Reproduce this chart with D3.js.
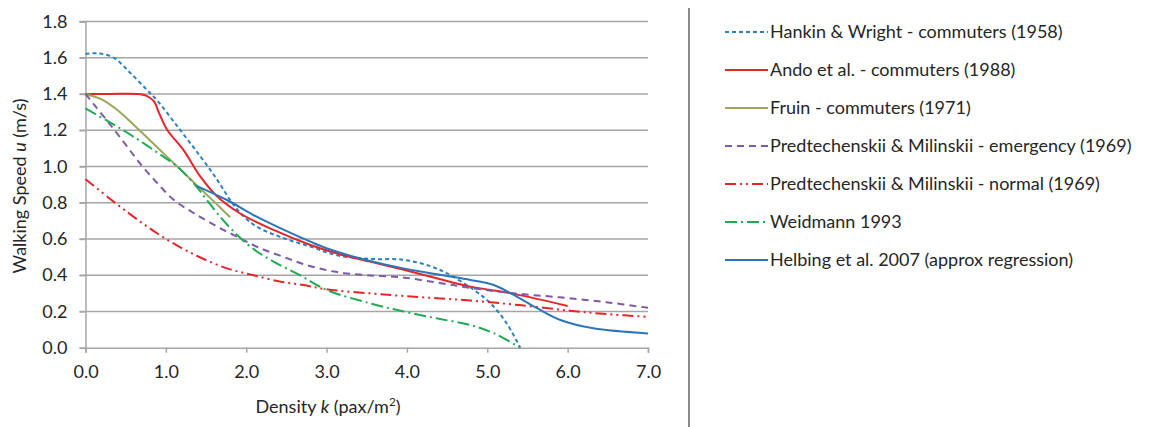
<!DOCTYPE html>
<html>
<head>
<meta charset="utf-8">
<script src="https://cdn.jsdelivr.net/npm/d3@7"></script>
<style>
  html, body { margin: 0; padding: 0; background: #fff; }
  svg { display: block; font-family: Lato, "Open Sans", sans-serif; }
</style>
</head>
<body>
<svg id="chart" width="1154" height="427"></svg>
<script>
// ---- data ----
const yTicks = [0.0, 0.2, 0.4, 0.6, 0.8, 1.0, 1.2, 1.4, 1.6, 1.8];
const xTicks = [0, 1, 2, 3, 4, 5, 6, 7];

const seriesNames = [
  "Hankin & Wright - commuters (1958)",
  "Ando et al. - commuters (1988)",
  "Fruin - commuters (1971)",
  "Predtechenskii & Milinskii - emergency (1969)",
  "Predtechenskii & Milinskii - normal (1969)",
  "Weidmann 1993",
  "Helbing et al. 2007 (approx regression)"
];

const hankin = [[0,1.62],[0.15,1.625],[0.35,1.60],[0.56,1.515],[0.77,1.42],[0.9,1.36],[1.18,1.20],[1.43,1.055],[1.64,0.926],[1.80,0.815],[1.93,0.742],[2.13,0.668],[2.47,0.604],[2.80,0.558],[3.13,0.51],[3.54,0.49],[3.96,0.485],[4.29,0.45],[4.5,0.41],[4.83,0.32],[5.04,0.245],[5.24,0.135],[5.41,0.0]];
const ando = [[0,1.40],[0.3,1.40],[0.64,1.40],[0.76,1.39],[0.85,1.36],[0.92,1.29],[1.02,1.20],[1.22,1.09],[1.43,0.944],[1.64,0.834],[1.92,0.742],[2.34,0.65],[2.80,0.567],[3.13,0.52],[3.54,0.475],[3.96,0.43],[4.37,0.383],[4.79,0.337],[5.33,0.297],[6.0,0.23]];
const fruin = [[0,1.40],[0.2,1.37],[0.4,1.31],[0.6,1.23],[0.8,1.145],[1.0,1.06],[1.2,0.975],[1.4,0.89],[1.6,0.806],[1.8,0.72]];
const predEmergency = [[0,1.40],[0.1,1.345],[0.3,1.235],[0.5,1.12],[0.7,1.005],[0.9,0.905],[1.1,0.815],[1.35,0.742],[1.64,0.668],[1.92,0.605],[2.17,0.55],[2.47,0.50],[2.76,0.455],[3.09,0.42],[3.5,0.40],[3.9,0.39],[4.37,0.36],[4.79,0.33],[5.33,0.30],[5.9,0.278],[6.5,0.25],[7.0,0.22]];
const predNormal = [[0,0.93],[0.35,0.806],[0.68,0.696],[1.02,0.595],[1.39,0.506],[1.76,0.438],[2.09,0.40],[2.43,0.364],[2.71,0.346],[3.0,0.322],[3.54,0.30],[3.96,0.285],[4.37,0.273],[4.79,0.26],[5.4,0.235],[6.03,0.204],[6.5,0.185],[7.0,0.17]];
const weidmann = [[0,1.32],[0.3,1.245],[0.56,1.175],[0.85,1.09],[1.14,1.0],[1.35,0.905],[1.51,0.815],[1.76,0.68],[2.05,0.558],[2.34,0.475],[2.67,0.40],[3.0,0.319],[3.54,0.245],[3.96,0.20],[4.37,0.162],[4.79,0.125],[5.08,0.08],[5.41,0.0]];
const helbing = [[1.38,0.893],[1.76,0.815],[2.13,0.723],[2.47,0.65],[2.80,0.585],[3.0,0.549],[3.34,0.502],[3.75,0.457],[4.17,0.42],[4.5,0.396],[4.79,0.374],[5.08,0.346],[5.33,0.291],[5.62,0.218],[5.91,0.153],[6.32,0.107],[7.0,0.079]];

const seriesData = [hankin, ando, fruin, predEmergency, predNormal, weidmann, helbing];
const seriesColors = ["#2f80c0", "#e3262b", "#9aa85c", "#7d5aa6", "#e3262b", "#22a955", "#2c76b8"];
const seriesDash = ["4,3", null, null, "7,5", "11,4,2,4,2,4", "12,4,2,4", null];

// ---- layout ----
const svg = d3.select("#chart");
const plotLeft = 85.5, plotRight = 648, plotTop = 21.5, plotBottom = 347.7;
const x = d3.scaleLinear().domain([0, 7]).range([plotLeft, plotRight]);
const y = d3.scaleLinear().domain([0, 1.8]).range([plotBottom, plotTop]);
const fontSize = 18;
const textColor = "#262626";

// gridlines
svg.append("g").selectAll("line").data(yTicks.filter(d => d > 0)).join("line")
  .attr("x1", plotLeft - 6).attr("x2", plotRight)
  .attr("y1", d => y(d)).attr("y2", d => y(d))
  .attr("stroke", "#a6a6a6").attr("stroke-width", 1.5);

// y axis
const yAxis = svg.append("g").attr("transform", `translate(${plotLeft},0)`)
  .call(d3.axisLeft(y).tickValues(yTicks).tickFormat(d3.format(".1f")).tickSize(6).tickPadding(12));
yAxis.select(".domain").attr("stroke", "#a6a6a6").attr("stroke-width", 1.5);
yAxis.selectAll(".tick line").attr("stroke", "#a6a6a6").attr("stroke-width", 1.5);
yAxis.selectAll(".tick text").attr("font-size", fontSize).attr("fill", textColor).attr("font-family", "Lato, sans-serif");

// x axis
const xAxis = svg.append("g").attr("transform", `translate(0,${plotBottom})`)
  .call(d3.axisBottom(x).tickValues(xTicks).tickFormat(d3.format(".1f")).tickSize(5).tickPadding(13));
xAxis.select(".domain").attr("stroke", "#a6a6a6").attr("stroke-width", 1.5);
xAxis.selectAll(".tick line").attr("stroke", "#a6a6a6").attr("stroke-width", 1.5);
xAxis.selectAll(".tick text").attr("font-size", fontSize).attr("fill", textColor).attr("font-family", "Lato, sans-serif");

// series
const line = d3.line().x(d => x(d[0])).y(d => y(d[1])).curve(d3.curveCatmullRom.alpha(0.5));
const plot = svg.append("g");
seriesData.forEach((data, i) => {
  plot.append("path").datum(data)
    .attr("d", line)
    .attr("fill", "none")
    .attr("stroke", seriesColors[i])
    .attr("stroke-width", 2)
    .attr("stroke-dasharray", seriesDash[i]);
});

// axis titles
const yt = svg.append("text")
  .attr("transform", `translate(26,186) rotate(-90)`)
  .attr("text-anchor", "middle").attr("font-size", fontSize).attr("fill", textColor);
yt.append("tspan").text("Walking Speed ");
yt.append("tspan").attr("font-style", "italic").text("u");
yt.append("tspan").text(" (m/s)");

const xt = svg.append("text")
  .attr("x", 328).attr("y", 413)
  .attr("text-anchor", "middle").attr("font-size", fontSize).attr("fill", textColor);
xt.append("tspan").text("Density ");
xt.append("tspan").attr("font-style", "italic").text("k");
xt.append("tspan").text(" (pax/m");
xt.append("tspan").attr("font-size", fontSize * 0.65).attr("dy", -7).text("2");
xt.append("tspan").attr("dy", 7).text(")");

// divider
svg.append("line").attr("x1", 689).attr("x2", 689).attr("y1", 8).attr("y2", 427)
  .attr("stroke", "#8a8a8a").attr("stroke-width", 2);

// legend
const legend = svg.append("g");
seriesNames.forEach((name, i) => {
  const cy = 32 + i * 38;
  legend.append("line")
    .attr("x1", 725).attr("x2", 768).attr("y1", cy).attr("y2", cy)
    .attr("stroke", seriesColors[i]).attr("stroke-width", 2)
    .attr("stroke-dasharray", seriesDash[i]);
  legend.append("text")
    .attr("x", 770).attr("y", cy).attr("dy", "0.36em")
    .attr("font-size", fontSize).attr("fill", textColor)
    .text(name);
});
</script>
</body>
</html>
